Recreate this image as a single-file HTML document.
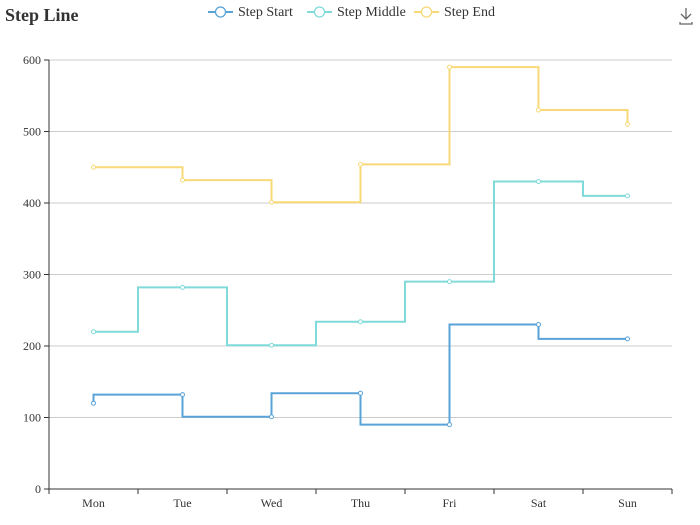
<!DOCTYPE html>
<html><head><meta charset="utf-8"><style>
body{margin:0;background:#fff;}
svg{display:block;font-family:"Liberation Serif",serif;}
</style></head><body>
<svg id="chart" width="700" height="525">
<text x="5" y="21" font-size="18" font-weight="bold" fill="#333">Step Line</text>
<g id="legend"></g>
<g stroke="#666" fill="none" stroke-width="1.3">
<path d="M686 8 V19 M681 14 L686 19 L691 14 M680 22 V24 H692 V22"/>
</g>
<g id="grid"></g><g id="axes"></g><g id="series"></g>
</svg>
<script>
const categories=['Mon','Tue','Wed','Thu','Fri','Sat','Sun'];
const stepStart=[120,132,101,134,90,230,210];
const stepMiddle=[220,282,201,234,290,430,410];
const stepEnd=[450,432,401,454,590,530,510];
const seriesNames=['Step Start','Step Middle','Step End'];
const yTicks=[0,100,200,300,400,500,600];
const colors=['#5aa3d8','#80dada','#f8d977'];
const NS='http://www.w3.org/2000/svg';
const L=49,R=672,T=60,B=489,yMax=600;
const bw=(R-L)/categories.length;
const X=i=>L+bw*(i+0.5);
const Y=v=>B-(v/yMax)*(B-T);
function mk(tag,attrs,parent){const e=document.createElementNS(NS,tag);for(const k in attrs)e.setAttribute(k,attrs[k]);parent.appendChild(e);return e;}
const grid=document.getElementById('grid'),axes=document.getElementById('axes'),ser=document.getElementById('series'),leg=document.getElementById('legend');
yTicks.forEach(t=>{
 if(t>0){const g=mk('line',{x1:L,x2:R,y1:Y(t),y2:Y(t),stroke:'#ccc','stroke-width':1},grid);
 
 }
 mk('line',{x1:L-5,x2:L,y1:Y(t),y2:Y(t),stroke:'#333'},axes);
 const tx=mk('text',{x:L-8,y:Y(t)+4,'text-anchor':'end','font-size':12,fill:'#333'},axes);tx.textContent=t;
 
 
});
mk('line',{x1:L,x2:L,y1:T,y2:B,stroke:'#333'},axes);
mk('line',{x1:L,x2:R,y1:B,y2:B,stroke:'#333'},axes);
for(let i=0;i<=categories.length;i++)mk('line',{x1:L+bw*i,x2:L+bw*i,y1:B,y2:B+5,stroke:'#333'},axes);
categories.forEach((c,i)=>{const tx=mk('text',{x:X(i),y:B+18,'text-anchor':'middle','font-size':12,fill:'#333'},axes);tx.textContent=c;
 
 });
function path(data,mode){
 let d='M'+X(0)+' '+Y(data[0]);
 for(let i=1;i<data.length;i++){
  const x0=X(i-1),x1=X(i),y0=Y(data[i-1]),y1=Y(data[i]);
  if(mode==='start')d+=` L${x0} ${y1} L${x1} ${y1}`;
  else if(mode==='middle'){const m=(x0+x1)/2;d+=` L${m} ${y0} L${m} ${y1} L${x1} ${y1}`;}
  else d+=` L${x1} ${y0} L${x1} ${y1}`;
 }
 return d;
}
[[stepStart,'start'],[stepMiddle,'middle'],[stepEnd,'end']].forEach(([data,mode],s)=>{
 const p=mk('path',{d:path(data,mode),fill:'none',stroke:colors[s],'stroke-width':2},ser);
 
 
 data.forEach((v,i)=>{const c=mk('circle',{cx:X(i),cy:Y(v),r:2,fill:'#fff',stroke:colors[s],'stroke-width':1},ser);
  
  });
});
const legX=[208,307,414];
seriesNames.forEach((n,s)=>{
 const g=mk('g',{},leg);
 
 
 mk('line',{x1:legX[s],x2:legX[s]+25,y1:12,y2:12,stroke:colors[s],'stroke-width':2},g);
 mk('circle',{cx:legX[s]+12.5,cy:12,r:5,fill:'#fff',stroke:colors[s],'stroke-width':1.3},g);
 const t=mk('text',{x:legX[s]+30,y:16,'font-size':14,fill:'#333'},g);t.textContent=n;
});
</script>
</body></html>
